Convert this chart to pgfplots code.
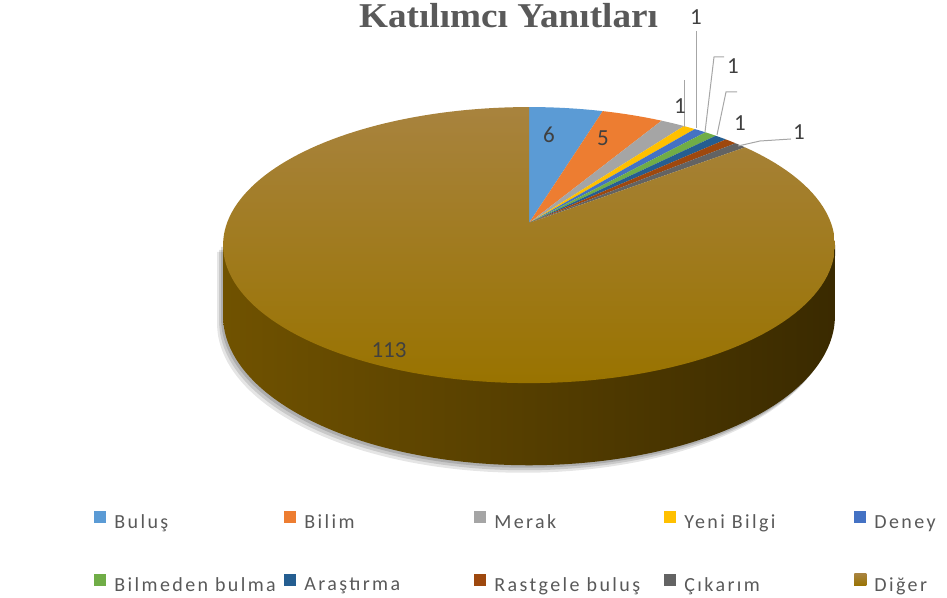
\documentclass[border=0pt]{standalone}
\usepackage{fontspec}
\setmainfont{Carlito}
\newfontfamily\titlefont{Liberation Serif}
\newfontfamily\legfont{Carlito}[LetterSpace=12]
\usepackage{graphicx}
\usepackage{pgfplots}
\usepackage{pgfplotstable}
\pgfplotsset{compat=1.18}

\definecolor{sc0}{HTML}{5B9BD5}
\definecolor{sc1}{HTML}{ED7D31}
\definecolor{sc2}{HTML}{A5A5A5}
\definecolor{sc3}{HTML}{FFC000}
\definecolor{sc4}{HTML}{4472C4}
\definecolor{sc5}{HTML}{70AD47}
\definecolor{sc6}{HTML}{255E91}
\definecolor{sc7}{HTML}{9E480E}
\definecolor{sc8}{HTML}{636363}
\definecolor{sc9}{HTML}{997300}
\definecolor{digTop}{RGB}{168,131,62}
\definecolor{sideL}{RGB}{112,82,0}
\definecolor{sideM}{RGB}{86,63,0}
\definecolor{sideR}{RGB}{58,42,0}
\definecolor{labtext}{HTML}{404040}
\definecolor{legtext}{HTML}{595959}
\definecolor{titlegray}{HTML}{595959}
\definecolor{leader}{HTML}{A6A6A6}

% values of the slices
\pgfplotstableread{
idx value
0 6
1 5
2 2
3 1
4 1
5 1
6 1
7 1
8 1
9 113
}\pietable

% total and cumulative angles
\xdef\pieTotal{0}
\pgfplotstableforeachcolumnelement{value}\of\pietable\as\v{%
  \pgfmathsetmacro\tmp{\pieTotal+\v}\xdef\pieTotal{\tmp}}
\xdef\pieCum{0}
\pgfplotstableforeachcolumnelement{value}\of\pietable\as\v{%
  \pgfmathsetmacro\tmpa{\pieCum/\pieTotal*360}%
  \pgfmathsetmacro\tmpc{\pieCum+\v}%
  \xdef\pieCum{\tmpc}%
  \pgfmathsetmacro\tmpb{\pieCum/\pieTotal*360}%
  \expandafter\xdef\csname thA\pgfplotstablerow\endcsname{\tmpa}%
  \expandafter\xdef\csname thB\pgfplotstablerow\endcsname{\tmpb}%
}
\newcommand\angA[1]{\csname thA#1\endcsname}
\newcommand\angB[1]{\csname thB#1\endcsname}

% perspective projection of the pie (pixel coordinates, y downwards)
\def\PX#1{(529+302*sin(#1)/(1+0.16*cos(#1)))}
\def\PY#1{(223-134.5*cos(#1)/(1+0.16*cos(#1)))}
\def\PYb#1{(223+(69-134.5*cos(#1))/(1+0.16*cos(#1)))}

\begin{document}
\begin{tikzpicture}
\begin{axis}[
  width=473.5pt, height=299pt, scale only axis,
  xmin=0, xmax=947, ymin=0, ymax=598, y dir=reverse,
  hide axis, clip=false,
  legend image code/.code={\fill[#1] (0pt,0pt) rectangle (6pt,6pt);},
  legend columns=5,
  legend cell align=left,
  legend style={at={(axis cs:94,511)}, anchor=north west, draw=none, fill=none,
    font=\legfont\fontsize{10}{12}\selectfont, text=legtext,
    row sep=21pt, inner sep=0pt,
    nodes={inner sep=0pt},
    /tikz/every odd column/.append style={column sep=4pt},
    /tikz/every even column/.append style={column sep=0pt}},
]
\path (rel axis cs:0,0) rectangle (rel axis cs:1,1);

% shadow
\addplot[forget plot, draw=none, fill=black, opacity=0.10, domain=99.21:260.79, samples=100]
  ({\PX{x}-6},{\PYb{x}+7.5}) -- (axis cs:217,252) -- (axis cs:829,252) -- cycle;
\addplot[forget plot, draw=none, fill=black, opacity=0.12, domain=99.21:260.79, samples=100]
  ({\PX{x}-4},{\PYb{x}+5}) -- (axis cs:219,250) -- (axis cs:831,250) -- cycle;
\addplot[forget plot, draw=none, fill=black, opacity=0.14, domain=99.21:260.79, samples=100]
  ({\PX{x}-2},{\PYb{x}+2.5}) -- (axis cs:221,247) -- (axis cs:833,247) -- cycle;

% side of the pie
\addplot[forget plot, draw=none, left color=sideL, middle color=sideM, right color=sideR,
  domain=99.21:260.79, samples=140]
  ({\PX{x}},{\PYb{x}}) -- (axis cs:223,245) -- (axis cs:835,245) -- cycle;

% top face slices
\addplot[fill=sc0, draw=none, domain=\angA{0}:\angB{0}, samples=30]
  ({\PX{x}},{\PY{x}}) -- (axis cs:529,223) -- cycle;
\addlegendentry{\makebox[85pt][l]{Buluş}}
\addplot[fill=sc1, draw=none, domain=\angA{1}:\angB{1}, samples=30]
  ({\PX{x}},{\PY{x}}) -- (axis cs:529,223) -- cycle;
\addlegendentry{\makebox[85pt][l]{Bilim}}
\addplot[fill=sc2, draw=none, domain=\angA{2}:\angB{2}, samples=12]
  ({\PX{x}},{\PY{x}}) -- (axis cs:529,223) -- cycle;
\addlegendentry{\makebox[85pt][l]{Merak}}
\addplot[fill=sc3, draw=none, domain=\angA{3}:\angB{3}, samples=8]
  ({\PX{x}},{\PY{x}}) -- (axis cs:529,223) -- cycle;
\addlegendentry{\makebox[85pt][l]{Yeni Bilgi}}
\addplot[fill=sc4, draw=none, domain=\angA{4}:\angB{4}, samples=8]
  ({\PX{x}},{\PY{x}}) -- (axis cs:529,223) -- cycle;
\addlegendentry{\makebox[30pt][l]{Deney}}
\addplot[fill=sc5, draw=none, domain=\angA{5}:\angB{5}, samples=8]
  ({\PX{x}},{\PY{x}}) -- (axis cs:529,223) -- cycle;
\addlegendentry{\makebox[85pt][l]{Bilmeden bulma}}
\addplot[fill=sc6, draw=none, domain=\angA{6}:\angB{6}, samples=8]
  ({\PX{x}},{\PY{x}}) -- (axis cs:529,223) -- cycle;
\addlegendentry{\makebox[85pt][l]{Araştırma}}
\addplot[fill=sc7, draw=none, domain=\angA{7}:\angB{7}, samples=8]
  ({\PX{x}},{\PY{x}}) -- (axis cs:529,223) -- cycle;
\addlegendentry{\makebox[85pt][l]{Rastgele buluş}}
\addplot[fill=sc8, draw=none, domain=\angA{8}:\angB{8}, samples=8]
  ({\PX{x}},{\PY{x}}) -- (axis cs:529,223) -- cycle;
\addlegendentry{\makebox[85pt][l]{Çıkarım}}
\addplot[draw=none, top color=digTop, middle color=sc9, bottom color=sc9,
  domain=\angA{9}:\angB{9}, samples=160,
  legend image code/.code={\fill[sc9] (0pt,0pt) rectangle (6pt,6pt);}]
  ({\PX{x}},{\PY{x}}) -- (axis cs:529,223) -- cycle;
\addlegendentry{\makebox[30pt][l]{Diğer}}

% leader lines
\addplot[forget plot, leader, line width=0.5pt] coordinates {(696,31) (696,128)};
\addplot[forget plot, leader, line width=0.5pt] coordinates {(684,80) (684,127)};
\addplot[forget plot, leader, line width=0.5pt] coordinates {(724,57) (714,57) (705,132)};
\addplot[forget plot, leader, line width=0.5pt] coordinates {(737,92) (726,92) (717,135)};
\addplot[forget plot, leader, line width=0.5pt] coordinates {(791,139) (760,141) (738,146)};

% data labels
\begin{scope}[every node/.style={font=\fontsize{11.5}{13}\selectfont, text=labtext, inner sep=0pt}]
\node at (axis cs:549,135) {6};
\node at (axis cs:603,138) {5};
\node at (axis cs:389,350) {113};
\node at (axis cs:696,17) {1};
\node at (axis cs:680,106) {1};
\node at (axis cs:733,66) {1};
\node at (axis cs:740,123) {1};
\node at (axis cs:799,132) {1};
\end{scope}

% title
\node[anchor=base, text=titlegray, inner sep=0pt] at (axis cs:508.5,28)
  {\scalebox{1.07}[1]{\titlefont\bfseries\fontsize{17.4}{20}\selectfont Katılımcı Yanıtları}};
\end{axis}
\end{tikzpicture}
\end{document}
